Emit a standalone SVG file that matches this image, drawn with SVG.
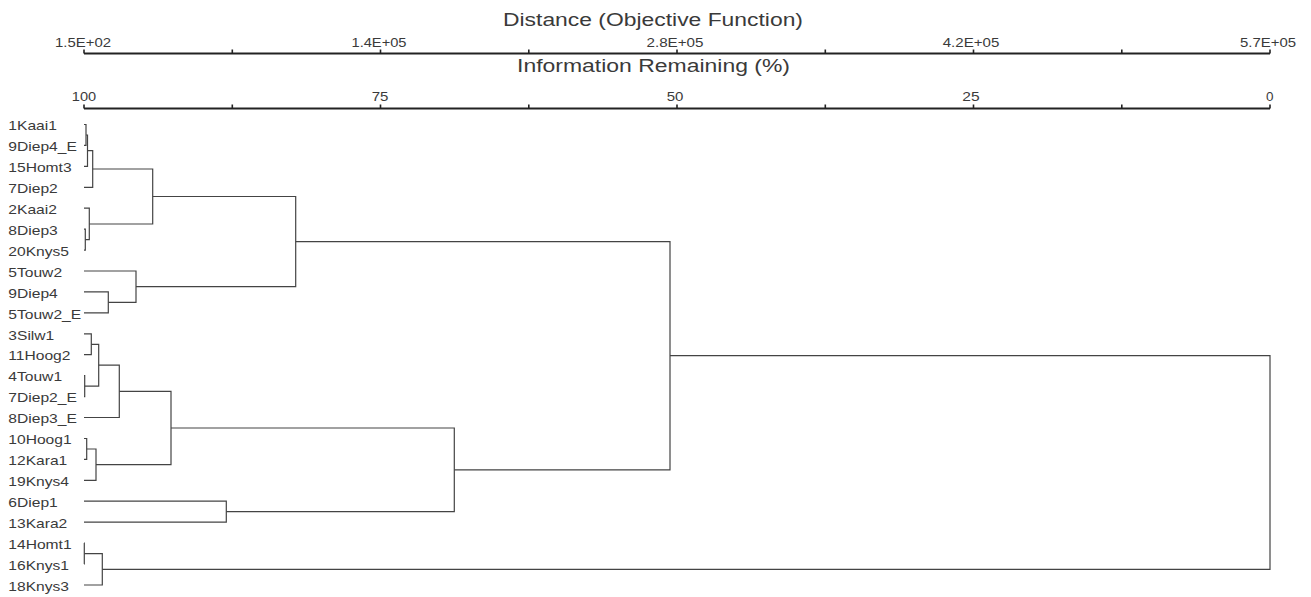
<svg xmlns="http://www.w3.org/2000/svg" width="1311" height="597" viewBox="0 0 1311 597">
<style>
text{font-family:"Liberation Sans",Arial,sans-serif;fill:#3a3a3a}
.ttl{font-size:17.5px}
.tk{font-size:13px;text-anchor:middle}
.lb{font-size:12.5px}
.ax{stroke:#222;stroke-width:2;fill:none}
.tick{stroke:#222;stroke-width:1.6;fill:none}
.cn{stroke:#444;stroke-width:1.2;fill:none}
</style>
<rect width="1311" height="597" fill="#fff"/>
<g id="axis-distance">
<text class="ttl" x="503" y="26" textLength="300" lengthAdjust="spacingAndGlyphs">Distance (Objective Function)</text>
<path class="ax" d="M84,53.5H1270"/>
<path class="tick" d="M84,49.5V53.5M232.3,49.5V53.5M380.5,49.5V53.5M528.8,49.5V53.5M677,49.5V53.5M825.3,49.5V53.5M973.5,49.5V53.5M1121.8,49.5V53.5M1270,49.5V53.5"/>
<text class="tk" x="83" y="46.5" textLength="56" lengthAdjust="spacingAndGlyphs">1.5E+02</text>
<text class="tk" x="379" y="46.5" textLength="55" lengthAdjust="spacingAndGlyphs">1.4E+05</text>
<text class="tk" x="675" y="46.5" textLength="57" lengthAdjust="spacingAndGlyphs">2.8E+05</text>
<text class="tk" x="971" y="46.5" textLength="56.5" lengthAdjust="spacingAndGlyphs">4.2E+05</text>
<text class="tk" x="1268" y="46.5" textLength="56" lengthAdjust="spacingAndGlyphs">5.7E+05</text>
</g>
<g id="axis-information">
<text class="ttl" x="517" y="71.7" textLength="273" lengthAdjust="spacingAndGlyphs">Information Remaining (%)</text>
<path class="ax" d="M84,108.5H1270"/>
<path class="tick" d="M84,104.5V108.5M232.3,104.5V108.5M380.5,104.5V108.5M528.8,104.5V108.5M677,104.5V108.5M825.3,104.5V108.5M973.5,104.5V108.5M1121.8,104.5V108.5M1270,104.5V108.5"/>
<text class="tk" x="84" y="101" textLength="24.3" lengthAdjust="spacingAndGlyphs">100</text>
<text class="tk" x="380" y="101" textLength="16.7" lengthAdjust="spacingAndGlyphs">75</text>
<text class="tk" x="675" y="101" textLength="16.7" lengthAdjust="spacingAndGlyphs">50</text>
<text class="tk" x="971" y="101" textLength="17.3" lengthAdjust="spacingAndGlyphs">25</text>
<text class="tk" x="1269.7" y="101" textLength="7.5" lengthAdjust="spacingAndGlyphs">0</text>
</g>
<g id="leaf-1Kaai1"><text class="lb" transform="translate(8.3,130.2) scale(1.25,1)">1Kaai1</text></g>
<g id="leaf-9Diep4_E"><text class="lb" transform="translate(8.3,151.1) scale(1.25,1)">9Diep4_E</text></g>
<g id="leaf-15Homt3"><text class="lb" transform="translate(8.3,172.1) scale(1.25,1)">15Homt3</text></g>
<g id="leaf-7Diep2"><text class="lb" transform="translate(8.3,193) scale(1.25,1)">7Diep2</text></g>
<g id="leaf-2Kaai2"><text class="lb" transform="translate(8.3,213.9) scale(1.25,1)">2Kaai2</text></g>
<g id="leaf-8Diep3"><text class="lb" transform="translate(8.3,234.9) scale(1.25,1)">8Diep3</text></g>
<g id="leaf-20Knys5"><text class="lb" transform="translate(8.3,255.8) scale(1.25,1)">20Knys5</text></g>
<g id="leaf-5Touw2"><text class="lb" transform="translate(8.3,276.7) scale(1.25,1)">5Touw2</text></g>
<g id="leaf-9Diep4"><text class="lb" transform="translate(8.3,297.6) scale(1.25,1)">9Diep4</text></g>
<g id="leaf-5Touw2_E"><text class="lb" transform="translate(8.3,318.6) scale(1.25,1)">5Touw2_E</text></g>
<g id="leaf-3Silw1"><text class="lb" transform="translate(8.3,339.5) scale(1.25,1)">3Silw1</text></g>
<g id="leaf-11Hoog2"><text class="lb" transform="translate(8.3,360.4) scale(1.25,1)">11Hoog2</text></g>
<g id="leaf-4Touw1"><text class="lb" transform="translate(8.3,381.4) scale(1.25,1)">4Touw1</text></g>
<g id="leaf-7Diep2_E"><text class="lb" transform="translate(8.3,402.3) scale(1.25,1)">7Diep2_E</text></g>
<g id="leaf-8Diep3_E"><text class="lb" transform="translate(8.3,423.2) scale(1.25,1)">8Diep3_E</text></g>
<g id="leaf-10Hoog1"><text class="lb" transform="translate(8.3,444.2) scale(1.25,1)">10Hoog1</text></g>
<g id="leaf-12Kara1"><text class="lb" transform="translate(8.3,465.1) scale(1.25,1)">12Kara1</text></g>
<g id="leaf-19Knys4"><text class="lb" transform="translate(8.3,486) scale(1.25,1)">19Knys4</text></g>
<g id="leaf-6Diep1"><text class="lb" transform="translate(8.3,506.9) scale(1.25,1)">6Diep1</text></g>
<g id="leaf-13Kara2"><text class="lb" transform="translate(8.3,527.9) scale(1.25,1)">13Kara2</text></g>
<g id="leaf-14Homt1"><text class="lb" transform="translate(8.3,548.8) scale(1.25,1)">14Homt1</text></g>
<g id="leaf-16Knys1"><text class="lb" transform="translate(8.3,569.7) scale(1.25,1)">16Knys1</text></g>
<g id="leaf-18Knys3"><text class="lb" transform="translate(8.3,590.7) scale(1.25,1)">18Knys3</text></g>
<g id="connectors">
<path class="cn" d="M84,124.5H86V145.4H84"/>
<path class="cn" d="M86,135H87.5V166.4H84"/>
<path class="cn" d="M87.5,150.7H92.7V187.3H84"/>
<path class="cn" d="M84,229.2H85.3V250.1H84"/>
<path class="cn" d="M84,208.2H89.3V239.7H85.3"/>
<path class="cn" d="M92.7,169H152.7V224H89.3"/>
<path class="cn" d="M84,291.9H108.3V312.9H84"/>
<path class="cn" d="M84,271H136V302.4H108.3"/>
<path class="cn" d="M152.7,196.5H295.7V286.7H136"/>
<path class="cn" d="M84,333.8H91.3V354.7H84"/>
<path class="cn" d="M84,375.7H84.7V396.6H84"/>
<path class="cn" d="M91.3,344.3H98.7V386.2H84.7"/>
<path class="cn" d="M98.7,365.2H119.3V417.5H84"/>
<path class="cn" d="M84,438.5H86.7V459.4H84"/>
<path class="cn" d="M86.7,449H96V480.3H84"/>
<path class="cn" d="M119.3,391.4H171V464.7H96"/>
<path class="cn" d="M84,501.2H226.3V522.2H84"/>
<path class="cn" d="M171,428H454.3V511.7H226.3"/>
<path class="cn" d="M295.7,241.6H670V469.9H454.3"/>
<path class="cn" d="M84,543.1H84.3V564H84"/>
<path class="cn" d="M84.3,553.6H102.3V585H84"/>
<path class="cn" d="M670,355.7H1270V569.3H102.3"/>
</g>
</svg>
